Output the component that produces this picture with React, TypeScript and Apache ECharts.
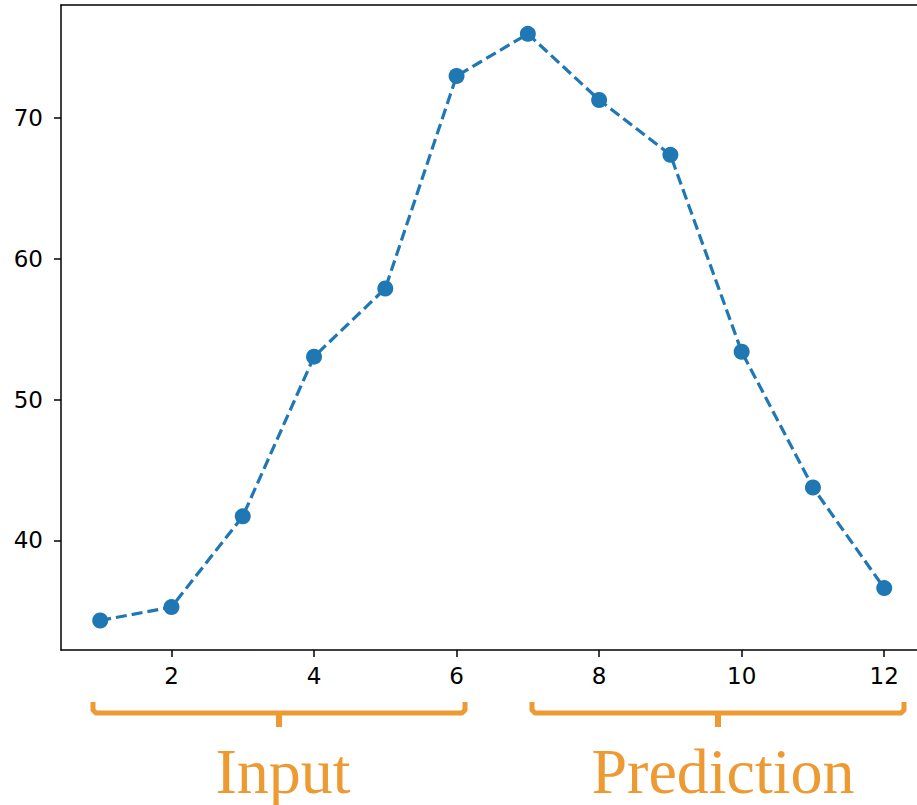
import React, { useEffect, useRef } from "react";
import * as echarts from "echarts";

const xValues = [1, 2, 3, 4, 5, 6, 7, 8, 9, 10, 11, 12];
const yValues = [34.3, 35.25, 41.7, 53.05, 57.9, 73.0, 76.0, 71.3, 67.4, 53.4, 43.75, 36.6];
const xTicks = [2, 4, 6, 8, 10, 12];
const yTicks = [40, 50, 60, 70];
const groupLabels = ["Input", "Prediction"];

const ORANGE = "#EE9A33";

export default function App() {
  const ref = useRef<HTMLDivElement>(null);
  useEffect(() => {
    if (!ref.current) return;
    const chart = echarts.init(ref.current, undefined, { renderer: "svg" });
    const bracket = (x1: number, x2: number) => {
      const cx = (x1 + x2) / 2;
      return [
        {
          type: "polyline",
          shape: { points: [[x1, 702], [x1, 710], [x1 + 3, 713], [x2 - 3, 713], [x2, 710], [x2, 702]] },
          style: { stroke: ORANGE, lineWidth: 5, fill: "none", lineJoin: "round" },
          silent: true,
        },
        {
          type: "line",
          shape: { x1: cx, y1: 713, x2: cx, y2: 727 },
          style: { stroke: ORANGE, lineWidth: 6 },
          silent: true,
        },
      ];
    };
    const axisLine = { show: true, onZero: false, lineStyle: { color: "#000", width: 1.5 } };
    chart.setOption({
      animation: false,
      backgroundColor: "#ffffff",
      grid: {
        left: 61,
        top: 5,
        width: 856,
        height: 645,
        show: false,
        containLabel: false,
      },
      xAxis: [
        {
          type: "value",
          min: 0.45,
          max: 12.46,
          splitLine: { show: false },
          axisLine,
          axisTick: { show: true, length: 7, customValues: xTicks, lineStyle: { color: "#000", width: 1.5 } },
          axisLabel: {
            customValues: xTicks,
            color: "#000",
            fontSize: 23,
            fontFamily: "DejaVu Sans",
            margin: 14,
          },
        },
        {
          type: "value",
          position: "top",
          min: 0.45,
          max: 12.46,
          splitLine: { show: false },
          axisLine,
          axisTick: { show: false },
          axisLabel: { show: false },
        },
      ],
      yAxis: {
        type: "value",
        min: 32.2,
        max: 78.05,
        splitLine: { show: false },
        axisLine,
        axisTick: { show: true, length: 7, customValues: yTicks, lineStyle: { color: "#000", width: 1.5 } },
        axisLabel: {
          customValues: yTicks,
          color: "#000",
          fontSize: 23,
          fontFamily: "DejaVu Sans",
          margin: 18,
        },
      },
      series: [
        {
          type: "line",
          xAxisIndex: 0,
          data: xValues.map((x, i) => [x, yValues[i]]),
          symbol: "circle",
          symbolSize: 16,
          itemStyle: { color: "#1f77b4" },
          lineStyle: { color: "#1f77b4", width: 3.2, type: [11, 5] },
        },
      ],
      graphic: [
        ...bracket(93, 465),
        ...bracket(532, 904),
        {
          type: "text",
          style: {
            text: groupLabels[0],
            x: 283,
            y: 771,
            fill: ORANGE,
            font: "64px 'Liberation Serif'",
            textAlign: "center",
            textVerticalAlign: "middle",
          },
          silent: true,
        },
        {
          type: "text",
          style: {
            text: groupLabels[1],
            x: 723,
            y: 771,
            fill: ORANGE,
            font: "64px 'Liberation Serif'",
            textAlign: "center",
            textVerticalAlign: "middle",
          },
          silent: true,
        },
      ],
    });
    return () => chart.dispose();
  }, []);
  return (
    <div
      ref={ref}
      style={{ position: "fixed", left: 0, top: 0, width: 917, height: 805, background: "#fff" }}
    />
  );
}
